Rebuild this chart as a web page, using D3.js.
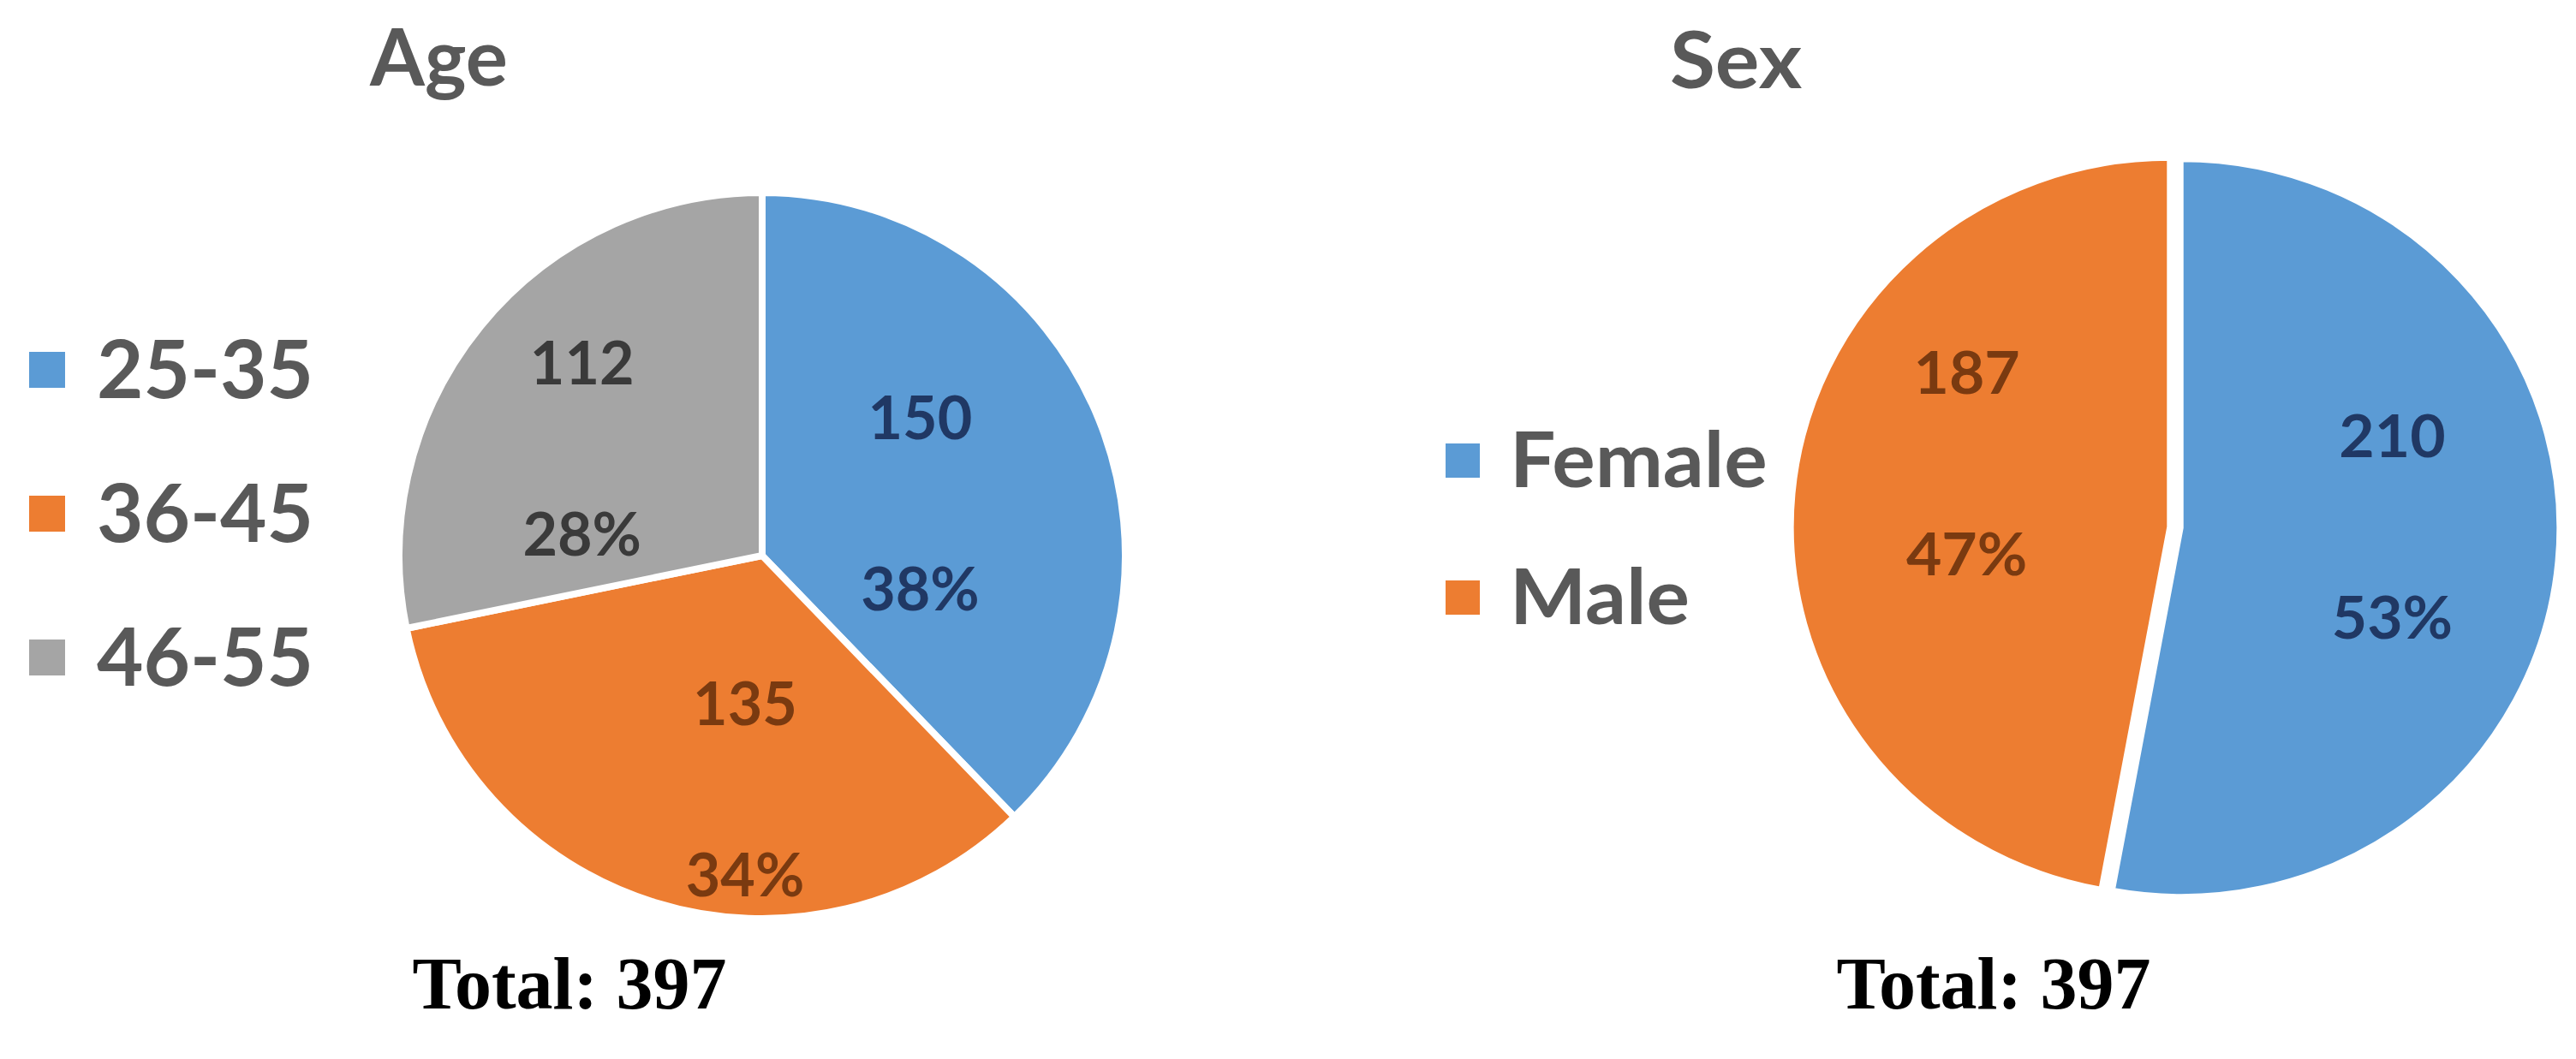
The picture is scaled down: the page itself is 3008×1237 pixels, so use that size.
<!DOCTYPE html>
<html>
<head>
<meta charset="utf-8">
<script src="https://cdn.jsdelivr.net/npm/d3@7"></script>
<style>
  html, body { margin: 0; padding: 0; background: #ffffff; }
  svg { display: block; }
</style>
</head>
<body>
<svg id="chart" width="3008" height="1237"></svg>
<script>
// ---------- data ----------
const ageCategories = ["25-35", "36-45", "46-55"];
const ageValues = [150, 135, 112];
const agePercents = ["38%", "34%", "28%"];

const sexCategories = ["Female", "Male"];
const sexValues = [210, 187];
const sexPercents = ["53%", "47%"];

const chartTitles = ["Age", "Sex"];
const totalLabels = ["Total: 397", "Total: 397"];

// ---------- style ----------
const sliceColors = ["#5B9BD5", "#ED7D31", "#A5A5A5"];
const labelColors = ["#203864", "#7A3A10", "#3A3A3A"];
const textGray = "#595959";
const sansFont = "Lato, 'Open Sans', sans-serif";
const serifFont = "'Liberation Serif', 'Times New Roman', serif";

const svg = d3.select("#chart");

function drawPie(cfg) {
  const pie = d3.pie().sort(null).value(d => d.value);
  const arcs = pie(cfg.categories.map((c, i) => ({cat: c, value: cfg.values[i], pct: cfg.percents[i], i})));
  const arc = d3.arc().innerRadius(0).outerRadius(cfg.r);

  const g = svg.append("g")
    .attr("transform", `translate(${cfg.cx},${cfg.cy}) scale(${cfg.sx},1)`);

  g.selectAll("path.slice")
    .data(arcs)
    .join("path")
    .attr("class", "slice")
    .attr("d", arc)
    .attr("transform", d => {
      const m = (d.startAngle + d.endAngle) / 2;
      return `translate(${Math.sin(m) * cfg.explode},${-Math.cos(m) * cfg.explode})`;
    })
    .attr("fill", d => sliceColors[d.data.i])
    .attr("stroke", "#ffffff")
    .attr("stroke-width", cfg.stroke)
    .attr("stroke-linejoin", "round");

  // labels (value over percentage)
  const lg = svg.append("g").attr("transform", `translate(${cfg.cx},${cfg.cy})`);
  arcs.forEach(d => {
    const m = (d.startAngle + d.endAngle) / 2 + cfg.labelShift[d.data.i] * Math.PI / 180;
    const rr = cfg.r * cfg.labelFrac[d.data.i];
    const x = Math.sin(m) * rr * cfg.sx;
    const y = -Math.cos(m) * rr;
    [[String(d.data.value), -cfg.lineGap / 2], [d.data.pct, cfg.lineGap / 2]].forEach(([t, dy]) => {
      lg.append("text")
        .attr("transform", `translate(${x},${y + dy}) scale(${cfg.textSx},1)`)
        .attr("text-anchor", "middle")
        .attr("dominant-baseline", "central")
        .attr("font-family", sansFont)
        .attr("font-weight", 700)
        .attr("font-size", cfg.labelSize)
        .attr("fill", labelColors[d.data.i])
        .text(t);
    });
  });

  // title
  svg.append("text")
    .attr("x", cfg.titleX).attr("y", cfg.titleY)
    .attr("font-family", sansFont).attr("font-weight", 700)
    .attr("font-size", cfg.titleSize).attr("fill", textGray)
    .attr("transform", `translate(${cfg.titleX},0) scale(${cfg.textSx},1) translate(${-cfg.titleX},0)`)
    .text(cfg.title);

  // legend
  const leg = svg.append("g");
  cfg.categories.forEach((c, i) => {
    const yc = cfg.legY + i * cfg.legStep;
    leg.append("rect")
      .attr("x", cfg.legX).attr("y", yc - cfg.legSq / 2 + 4)
      .attr("width", cfg.legSq).attr("height", cfg.legSq)
      .attr("fill", sliceColors[i]);
    leg.append("text")
      .attr("transform", `translate(${cfg.legTextX},${yc}) scale(${cfg.textSx},1)`)
      .attr("dominant-baseline", "central")
      .attr("font-family", sansFont).attr("font-weight", 700)
      .attr("font-size", cfg.legSize).attr("fill", textGray)
      .text(c);
  });

  // total
  svg.append("text")
    .attr("x", cfg.totalX).attr("y", cfg.totalY)
    .attr("text-anchor", "middle")
    .attr("font-family", serifFont).attr("font-weight", 700)
    .attr("font-size", 86).attr("fill", "#000000")
    .text(cfg.total);
}

drawPie({
  categories: ageCategories, values: ageValues, percents: agePercents,
  cx: 890, cy: 649, r: 424, sx: 1, explode: 0, stroke: 8,
  labelFrac: [0.46, 0.64, 0.58], labelShift: [3, -13, -8],
  lineGap: 200, labelSize: 70, textSx: 1,
  title: chartTitles[0], titleX: 432, titleY: 100, titleSize: 92,
  legX: 34, legTextX: 113, legY: 428, legStep: 168, legSq: 42, legSize: 94,
  total: totalLabels[0], totalX: 665, totalY: 1178
});

drawPie({
  categories: sexCategories, values: sexValues, percents: sexPercents,
  cx: 2540, cy: 616, r: 430, sx: 1.025, explode: 7, stroke: 5,
  labelFrac: [0.575, 0.58], labelShift: [-5.7, 12.6],
  lineGap: 212, labelSize: 68, textSx: 1.05,
  title: chartTitles[1], titleX: 1950, titleY: 103, titleSize: 92,
  legX: 1688, legTextX: 1763, legY: 534, legStep: 160, legSq: 40, legSize: 90,
  total: totalLabels[1], totalX: 2328, totalY: 1178
});
</script>
</body>
</html>
